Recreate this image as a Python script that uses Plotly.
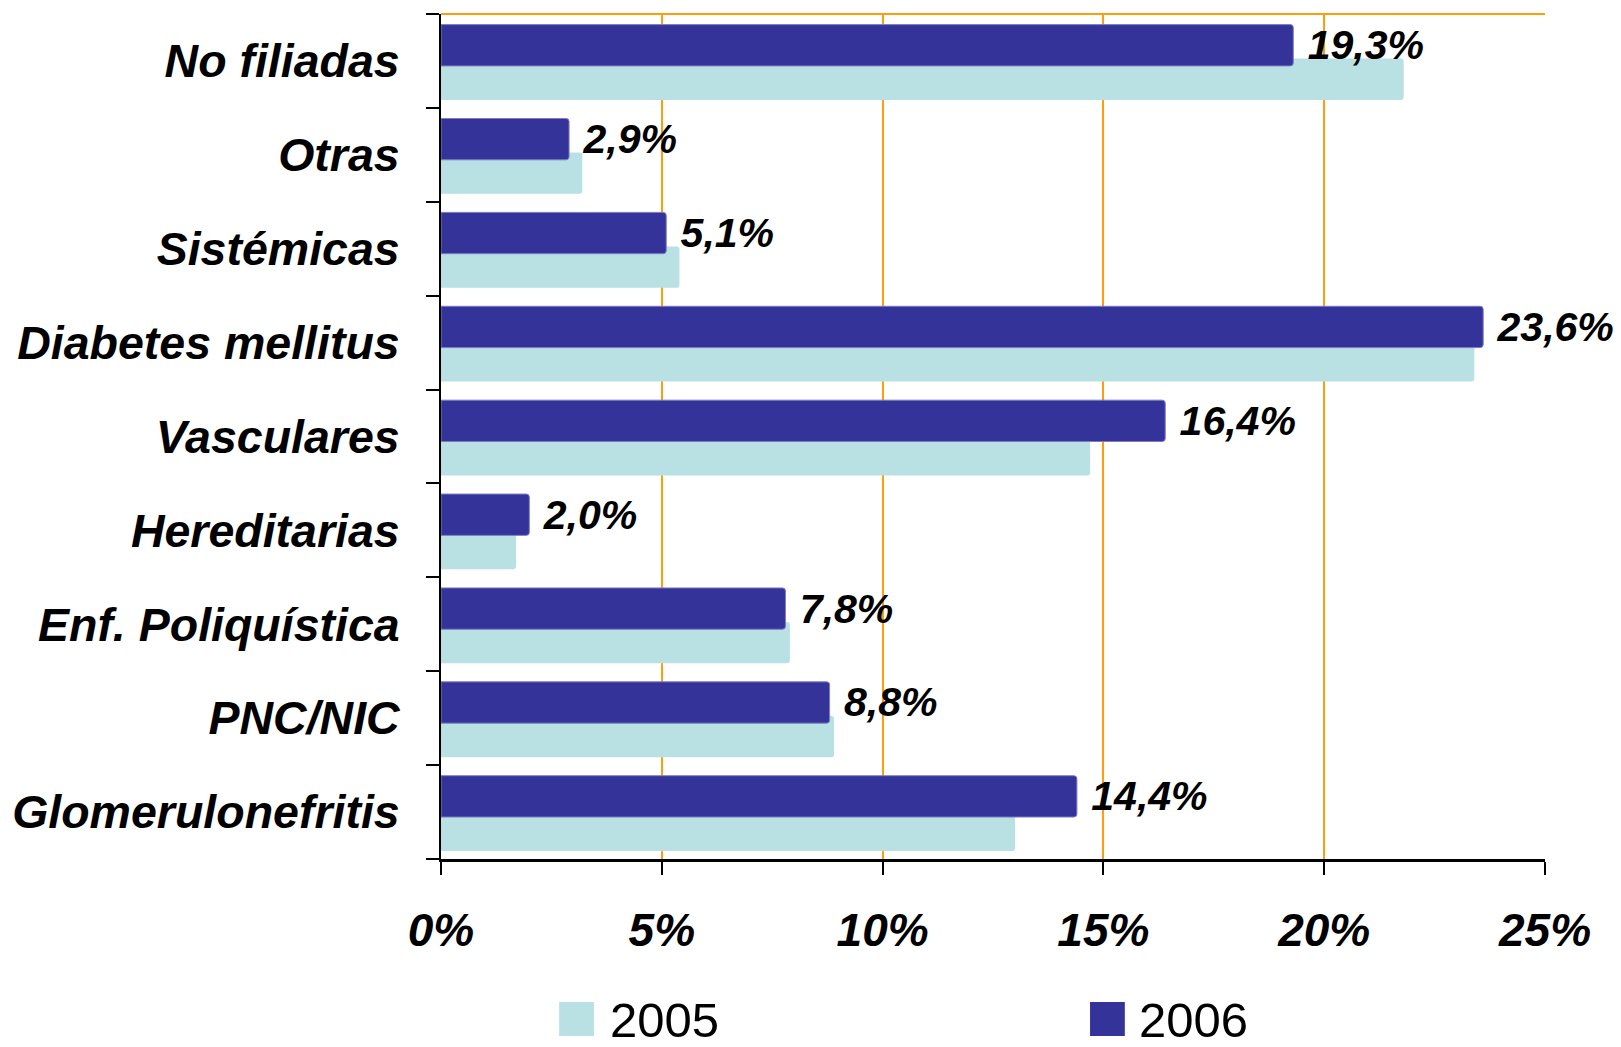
import plotly.graph_objects as go

# categories listed bottom-to-top (as drawn)
categories = ["Glomerulonefritis", "PNC/NIC", "Enf. Poliquística", "Hereditarias",
              "Vasculares", "Diabetes mellitus", "Sistémicas", "Otras", "No filiadas"]
values_2005 = [13.0, 8.9, 7.9, 1.7, 14.7, 23.4, 5.4, 3.2, 21.8]
values_2006 = [14.4, 8.8, 7.8, 2.0, 16.4, 23.6, 5.1, 2.9, 19.3]
years = ["2005", "2006"]
x_ticks = [0, 5, 10, 15, 20, 25]

light = "#B9E0E3"
dark = "#333399"
orange = "#FF9E0C"
font_name = "Liberation Sans"

fig = go.Figure()
fig.add_trace(go.Bar(
    y=categories, x=values_2005, orientation="h", name=years[0],
    marker=dict(color=light, line=dict(width=0), cornerradius=3),
    width=0.44, offset=-0.415, showlegend=False,
))
fig.add_trace(go.Bar(
    y=categories, x=values_2006, orientation="h", name=years[1],
    marker=dict(color=dark, line=dict(color="#7C7CC0", width=1), cornerradius=3),
    width=0.44, offset=-0.053, showlegend=False,
    texttemplate="\u00a0%{x:.1f}%", textposition="outside",
    textfont=dict(family=font_name, size=41, color="black", weight="bold", style="italic"),
    constraintext="none", cliponaxis=False,
))

# the page body adds an 8px margin, so the figure is 8px smaller than the window
fig.update_layout(
    width=1613, height=1039,
    margin=dict(l=433, r=76, t=6, b=188),
    barmode="overlay",
    separators=",.",
    plot_bgcolor="white", paper_bgcolor="white",
    font=dict(family=font_name, color="black"),
    xaxis=dict(
        range=[0, 25], tickvals=x_ticks, ticktext=[f"{v}%" for v in x_ticks],
        showgrid=True, gridcolor=orange, gridwidth=2,
        showline=True, linecolor="black", linewidth=3,
        ticks="outside", ticklen=13, tickwidth=2, tickcolor="black",
        ticklabelstandoff=16, zeroline=False, automargin=False,
        tickfont=dict(family=font_name, size=46, weight="bold", style="italic"),
    ),
    yaxis=dict(
        range=[-0.5, 8.5], showgrid=False,
        showline=True, linecolor="black", linewidth=2,
        ticks="outside", tickson="boundaries", ticklen=13, tickwidth=2, tickcolor="black",
        ticklabelstandoff=30, automargin=False,
        tickfont=dict(family=font_name, size=46.5, weight="bold", style="italic"),
    ),
)

# orange top border of the plot area
fig.add_shape(type="line", xref="paper", yref="paper", x0=0, x1=1, y0=1, y1=1,
              line=dict(color=orange, width=2), layer="below")

# legend drawn with large swatches
legend_items = [(years[0], light, 0.107, 0.1513), (years[1], dark, 0.5879, 0.6304)]
for label, col, sx, tx in legend_items:
    fig.add_shape(type="rect", xref="paper", yref="paper",
                  x0=sx, x1=sx + 0.0315, y0=-0.2095, y1=-0.1692,
                  fillcolor=col, line=dict(width=0))
    fig.add_annotation(text=label, xref="paper", yref="paper", x=tx, y=-0.1905,
                       xanchor="left", yanchor="middle", showarrow=False,
                       font=dict(family=font_name, size=49, color="black"))

fig.write_html("out.html")
